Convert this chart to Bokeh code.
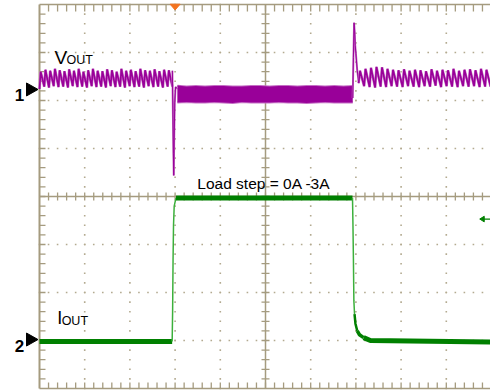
import numpy as np
from bokeh.plotting import figure
from bokeh.models import Range1d
from bokeh.core.properties import value
from bokeh.embed import file_html
from bokeh.resources import INLINE

# ---------------- data (time and amplitude in scope divisions) ----------------
# VOUT before the load step: ripple teeth (peak / valley levels)
vout_pre_span = [0.0, 2.94]
vout_pre_peaks = [2.60, 2.64, 2.62, 2.66, 2.63, 2.61, 2.65, 2.62, 2.66, 2.60,
                  2.63, 2.66, 2.62, 2.61, 2.65, 2.63, 2.60, 2.66, 2.62, 2.64,
                  2.61, 2.66, 2.63, 2.62, 2.65, 2.61, 2.64, 2.63]
vout_pre_valleys = [2.24, 2.29, 2.27, 2.30, 2.28, 2.29, 2.27, 2.30, 2.28, 2.29,
                    2.27, 2.30, 2.28, 2.29, 2.27, 2.30, 2.28, 2.29, 2.27, 2.30,
                    2.28, 2.29, 2.27, 2.30, 2.28, 2.29, 2.27, 2.29]
# VOUT undershoot at the 0A -> 3A step
vout_drop_t = [2.94, 2.952, 2.962, 2.970, 2.980, 2.992, 3.010, 3.050]
vout_drop_v = [2.62, 1.70, 0.90, 0.44, 1.20, 1.95, 2.28, 2.25]
# VOUT under 3A load: noise band envelope
vout_band_span = [3.05, 6.93]
vout_band_upper = [2.31, 2.29, 2.30, 2.29, 2.30, 2.30, 2.29, 2.29, 2.30, 2.30,
                   2.29, 2.30, 2.30, 2.29, 2.30, 2.30, 2.29, 2.30, 2.29, 2.30]
vout_band_lower = [1.96, 1.97, 1.96, 1.96, 1.97, 1.96, 1.95, 1.97, 1.96, 1.96,
                   1.96, 1.97, 1.96, 1.96, 1.95, 1.96, 1.97, 1.96, 1.96, 1.96]
# VOUT overshoot at the 3A -> 0A step
vout_over_t = [6.93, 6.945, 6.960, 6.972, 6.985, 7.000, 7.030, 7.060]
vout_over_v = [2.05, 2.90, 3.62, 3.45, 3.15, 2.98, 2.62, 2.40]
# VOUT after the step: ripple teeth
vout_post_span = [7.06, 9.98]
vout_post_peaks = [2.62, 2.66, 2.68, 2.70, 2.69, 2.66, 2.64, 2.63, 2.65, 2.62,
                   2.64, 2.63, 2.61, 2.65, 2.62, 2.64, 2.63, 2.66, 2.62, 2.64,
                   2.65, 2.63, 2.66, 2.64]
vout_post_valleys = [2.36, 2.30, 2.28, 2.27, 2.29, 2.28, 2.30, 2.29, 2.28, 2.30,
                     2.29, 2.28, 2.30, 2.29, 2.31, 2.28, 2.30, 2.29, 2.28, 2.30,
                     2.29, 2.30, 2.28, 2.29]

# IOUT trace
iout_t = [0.0, 2.935, 2.945, 2.955, 2.965, 2.980, 3.020,
          6.925, 6.935, 6.945, 6.955, 6.970, 6.990, 7.030, 7.080, 7.170, 7.320, 9.98]
iout_v = [-3.02, -3.02, -2.40, -1.30, -0.60, -0.20, -0.03,
          -0.03, -0.60, -1.30, -2.17, -2.45, -2.65, -2.80, -2.88, -2.94, -3.00, -3.03]

ch1_ref = 2.23
ch2_ref = -2.98
trigger_t = 3.0
trigger_level = -0.47
ch_labels = ["1", "2"]
title_text = "Load step = 0A -3A"

# ---------------- figure ----------------
PX_X = 45.2   # pixels per horizontal division
PX_Y = 48.0   # pixels per vertical division
p = figure(width=490, height=390, output_backend="svg", toolbar_location=None,
           x_range=Range1d(-39 / PX_X, 451 / PX_X),
           y_range=Range1d(-4 - 2 / PX_Y, 4 + 4 / PX_Y),
           min_border=0)
p.axis.visible = False
p.xgrid.visible = False
p.ygrid.visible = False
p.outline_line_color = None
p.background_fill_color = "white"
p.border_fill_color = "white"

GRID = "#a59b7f"
DOT = "#b3aa90"

# dotted graticule
dx, dy = [], []
for gx in [1, 2, 3, 4, 6, 7, 8, 9]:
    for yy in np.arange(-4, 4.01, 0.2):
        dx.append(gx); dy.append(yy)
for gy in [-3, -2, -1, 1, 2, 3]:
    for xx in np.arange(0, 10.01, 0.2):
        dx.append(xx); dy.append(gy)
p.scatter(dx, dy, marker="square", size=1.6, color=DOT, line_color=None)

# center lines and border
p.segment(x0=[5, 0, 0, 0], y0=[-4, 0, 4, -4], x1=[5, 10, 10, 10], y1=[4, 0, 4, -4],
          line_color=GRID, line_width=1.5)
p.segment(x0=[0], y0=[-4], x1=[0], y1=[4], line_color=GRID, line_width=2)

# tick marks
tx = np.arange(0.2, 10, 0.2)
ty = np.arange(-3.8, 4, 0.2)
tl_x = 4 / PX_X
tl_y = 4 / PX_Y
p.segment(x0=tx, y0=-tl_y, x1=tx, y1=tl_y, line_color=GRID, line_width=1.3)
p.segment(x0=5 - tl_x, y0=ty, x1=5 + tl_x, y1=ty, line_color=GRID, line_width=1.3)
p.segment(x0=tx, y0=4, x1=tx, y1=4 - 7 / PX_Y, line_color=GRID, line_width=1.3)
p.segment(x0=tx, y0=-4, x1=tx, y1=-4 + 6 / PX_Y, line_color=GRID, line_width=1.3)
p.segment(x0=0, y0=ty, x1=6 / PX_X, y1=ty, line_color=GRID, line_width=1.3)


def teeth(span, peaks, valleys, rise=0.25):
    n = len(peaks)
    T = (span[1] - span[0]) / n
    xs, ys = [], []
    for k in range(n):
        t0 = span[0] + k * T
        xs += [t0, t0 + rise * T]
        ys += [valleys[k], peaks[k]]
    xs.append(span[1]); ys.append(valleys[-1])
    return xs, ys


MAG = "#990099"
MAG_L = "#c46ec4"

# VOUT
x1, y1 = teeth(vout_pre_span, vout_pre_peaks, vout_pre_valleys)
p.line(x1, y1, line_color=MAG_L, line_width=2.6)
p.line(x1, y1, line_color=MAG, line_width=1.6)
bt = np.linspace(vout_band_span[0], vout_band_span[1], len(vout_band_upper))
p.line(bt, vout_band_upper, line_color=MAG_L, line_width=2)
p.line(bt, vout_band_lower, line_color=MAG_L, line_width=2)
p.varea(x=bt, y1=vout_band_lower, y2=vout_band_upper, fill_color=MAG)
p.line(vout_drop_t, vout_drop_v, line_color=MAG_L, line_width=2)
p.line(vout_drop_t, vout_drop_v, line_color=MAG, line_width=1)
p.line(vout_over_t, vout_over_v, line_color=MAG_L, line_width=2)
p.line(vout_over_t, vout_over_v, line_color=MAG, line_width=1)
x2, y2 = teeth(vout_post_span, vout_post_peaks, vout_post_valleys)
p.line(x2, y2, line_color=MAG_L, line_width=2.6)
p.line(x2, y2, line_color=MAG, line_width=1.6)

# IOUT
GRN = "#008000"
GRN_L = "#3cb03c"
p.line(iout_t[0:2], iout_v[0:2], line_color=GRN, line_width=5)
p.line(iout_t[1:7], iout_v[1:7], line_color=GRN_L, line_width=1.5)
p.line(iout_t[6:8], iout_v[6:8], line_color=GRN, line_width=5)
p.line(iout_t[7:12], iout_v[7:12], line_color=GRN_L, line_width=1.5)
p.line(iout_t[11:14], iout_v[11:14], line_color=GRN, line_width=2.5)
p.line(iout_t[13:16], iout_v[13:16], line_color=GRN, line_width=3.5)
p.line(iout_t[15:], iout_v[15:], line_color=GRN, line_width=5)

# channel reference markers
for lab, ref in zip(ch_labels, [ch1_ref, ch2_ref]):
    p.patch([-13 / PX_X, -13 / PX_X, -1.5 / PX_X],
            [ref + 6.5 / PX_Y, ref - 6.5 / PX_Y, ref], color="black")
    p.text(x=[-20 / PX_X], y=[ref - 6 / PX_Y], text=[lab], text_align="center",
           text_baseline="alphabetic", text_font=value("Liberation Sans"),
           text_font_size="17px", text_font_style="bold", text_color="black")

# trigger position marker (top) and trigger level arrow (right)
p.patch([trigger_t - 5 / PX_X, trigger_t + 5 / PX_X, trigger_t],
        [4 + 0.3 / PX_Y, 4 + 0.3 / PX_Y, 4 - 5.5 / PX_Y], color="#f47320")
p.segment(x0=[9.74 + 3 / PX_X], y0=[trigger_level], x1=[9.98], y1=[trigger_level],
          line_color=GRN, line_width=1.3)
p.patch([9.74, 9.74 + 4.5 / PX_X, 9.74 + 4.5 / PX_X],
        [trigger_level, trigger_level + 2.8 / PX_Y, trigger_level - 2.8 / PX_Y], color=GRN)

# labels
F = value("Liberation Sans")
p.text(x=[0.33], y=[2.90], text=["V"], text_font=F, text_font_size="19px",
       text_baseline="alphabetic", text_color="black")
p.text(x=[0.60], y=[2.854], text=["OUT"], text_font=F, text_font_size="12.5px",
       text_baseline="alphabetic", text_color="black")
p.text(x=[0.394], y=[-2.535], text=["I"], text_font=F, text_font_size="18px",
       text_baseline="alphabetic", text_color="black")
p.text(x=[0.49], y=[-2.598], text=["OUT"], text_font=F, text_font_size="12.5px",
       text_baseline="alphabetic", text_color="black")
p.text(x=[3.491], y=[0.264], text=[title_text], text_font=F, text_font_size="15.5px",
       text_baseline="alphabetic", text_color="black")

open("out.html", "w").write(file_html(p, INLINE))
